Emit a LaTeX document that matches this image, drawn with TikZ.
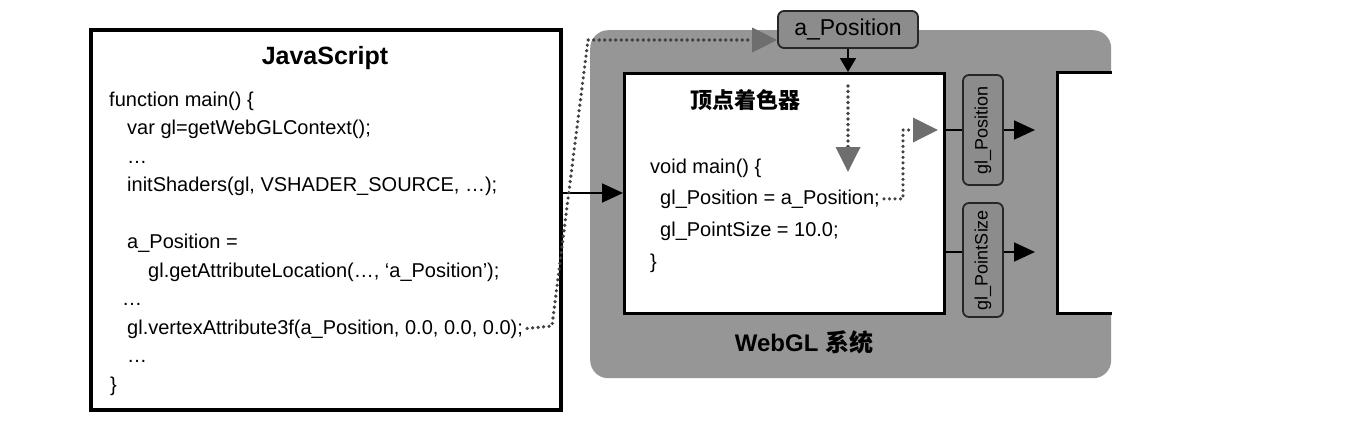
\documentclass[tikz,border=0pt]{standalone}
\usepackage{fontspec}
\setmainfont{Liberation Sans}
\newfontfamily\cjk{Noto Sans CJK SC}
\usetikzlibrary{arrows.meta,calc}
\definecolor{bggray}{RGB}{150,150,150}
\definecolor{boxgray}{RGB}{140,140,140}
\definecolor{tipgray}{RGB}{110,110,110}
\definecolor{dotgray}{RGB}{65,65,65}
\begin{document}
\begin{tikzpicture}[x=1pt,y=-1pt,
  code/.style={font=\fontsize{20}{24}\selectfont, anchor=base west, inner sep=0pt},
  frame/.style={draw=black, line width=3pt, fill=white, inner sep=0pt, anchor=north west},
  tag/.style={draw=black!85, line width=1.8pt, fill=boxgray, rounded corners=6pt, inner sep=0pt},
  flow/.style={line width=1.8pt, -{Triangle[length=21pt,width=19pt]}},
  smallflow/.style={line width=1.8pt, -{Triangle[length=14pt,width=16pt]}},
  dots/.style={draw=dotgray, line width=3.6pt, line cap=round, dash pattern=on 0pt off 5.5pt},
  graytip/.style={-{Triangle[length=25pt,width=24pt,color=tipgray]}}
]
\useasboundingbox[fill=white] (0,0) rectangle (1372,426);

% WebGL system background
\node[fill=bggray, rounded corners=18pt, minimum width=521pt, minimum height=348pt,
      anchor=north west, inner sep=0pt] (sys) at (590,30) {};
% right (next stage) box, open on the right
\node[fill=white, minimum width=55pt, minimum height=241pt, anchor=north west, inner sep=0pt] (nxt) at (1057,72) {};
\draw[line width=3pt] (nxt.north east) -- (nxt.north west) -- (nxt.south west) -- (nxt.south east);

% JavaScript box
\node[frame, line width=3.5pt, minimum width=470pt, minimum height=380pt] (js) at (89,28) {};
% vertex shader box
\node[frame, minimum width=320pt, minimum height=240pt] (vs) at (623,72) {};

% titles
\node[font=\bfseries\fontsize{25}{30}\selectfont] (jstitle) at (325,58) {JavaScript};
\node[font=\cjk\bfseries\fontsize{22}{26}\selectfont] (vstitle) at (745,100) {顶点着色器};
\node[font=\bfseries\fontsize{24}{28}\selectfont] (systitle) at (804,342) {WebGL {\cjk 系统}};

% JavaScript code
\node[code] (l0) at (109,106) {function main() \{};
\node[code] (l1) at (127,134.5) {var gl=getWebGLContext();};
\node[code] (l2) at (127,163) {…};
\node[code] (l3) at (127,191.5) {initShaders(gl, VSHADER\_SOURCE, …);};
\node[code] (l5) at (127,248.5) {a\_Position =};
\node[code] (l6) at (148,277) {gl.getAttributeLocation(…, ‘a\_Position’);};
\node[code] (l7) at (122,305.5) {…};
\node[code] (vtx) at (127,334) {gl.vertexAttribute3f(a\_Position, 0.0, 0.0, 0.0);};
\node[code] (l9) at (127,362.5) {…};
\node[code] (l10) at (110,391) {\}};

% shader code
\node[code] (s0) at (650,173) {void main() \{};
\node[code] (gp) at (660,204) {gl\_Position = a\_Position;};
\node[code] (s2) at (660,236) {gl\_PointSize = 10.0;};
\node[code] (s3) at (650,268) {\}};

% tags
\node[tag, minimum width=140pt, minimum height=37pt, font=\fontsize{23}{27}\selectfont] (apos) at (848,29.5) {a\_Position};
\node[tag, rotate=90, minimum width=110pt, minimum height=40pt, font=\fontsize{18}{22}\selectfont] (glpos) at (983,130) {gl\_Position};
\node[tag, rotate=90, minimum width=114pt, minimum height=40pt, font=\fontsize{18}{22}\selectfont] (glps) at (983,260) {gl\_PointSize};

% coordinates
\coordinate (c1) at (560,193);
\coordinate (c2) at (0,252);
\coordinate (t1) at (1035,130);
\coordinate (t2) at (1035,252);
\coordinate (d1) at (552,326);
\coordinate (d2) at (588,40);
\coordinate (e1) at (848,86);
\coordinate (e2) at (848,172);
\coordinate (f1) at (903,0);
\coordinate (f2) at (938,130);

% solid connectors
\draw[flow] (js.east |- c1) -- (vs.west |- c1);
\draw[smallflow] (apos.south) -- (vs.north -| apos.south);
\draw[line width=1.8pt] (vs.east |- glpos) -- (glpos.north);
\draw[flow] (glpos.south) -- (t1);
\draw[line width=1.8pt] (vs.east |- c2) -- (glps.north |- c2);
\draw[flow] (glps.south |- c2) -- (t2);

% dotted connectors
\draw[dots, graytip, shorten <=4pt] (vtx.east) -- (d1) -- (d2) -- (apos.west |- d2);
\draw[dots, graytip] (e1) -- (e2);
\draw[dots, graytip, shorten <=4pt] (gp.east) -- (f1 |- gp.east) -- (f1 |- f2) -- (f2);
\end{tikzpicture}
\end{document}
